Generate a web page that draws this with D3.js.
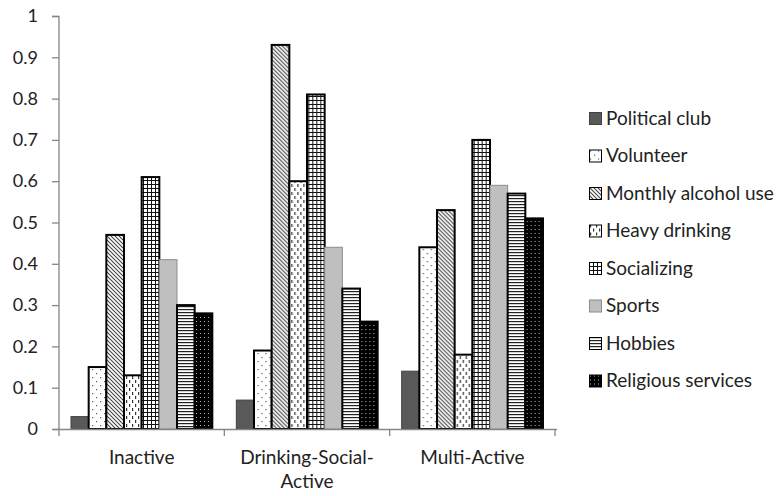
<!DOCTYPE html>
<html><head><meta charset="utf-8">
<script src="https://cdn.jsdelivr.net/npm/d3@7"></script>
<style>body{margin:0;background:#fff;} svg{display:block;font-family:Lato, "Open Sans", sans-serif;}</style>
</head><body><svg id="c" width="783" height="496"></svg>
<script>
const categories = ["Inactive", "Drinking-Social-Active", "Multi-Active"];
const categoryLines = [["Inactive"], ["Drinking-Social-", "Active"], ["Multi-Active"]];
const seriesNames = ["Political club","Volunteer","Monthly alcohol use","Heavy drinking","Socializing","Sports","Hobbies","Religious services"];
const politicalClub = [0.03, 0.07, 0.14];
const volunteer = [0.15, 0.19, 0.44];
const monthlyAlcohol = [0.47, 0.93, 0.53];
const heavyDrinking = [0.13, 0.60, 0.18];
const socializing = [0.61, 0.81, 0.70];
const sports = [0.41, 0.44, 0.59];
const hobbies = [0.30, 0.34, 0.57];
const religious = [0.28, 0.26, 0.51];
const yTicks = [0,0.1,0.2,0.3,0.4,0.5,0.6,0.7,0.8,0.9,1];

const seriesValues = [politicalClub, volunteer, monthlyAlcohol, heavyDrinking, socializing, sports, hobbies, religious];

const svg = d3.select("#c");
const defs = svg.append("defs");
function pat(id, w, h, build){
  const p = defs.append("pattern").attr("id", id).attr("patternUnits","userSpaceOnUse").attr("width",w).attr("height",h);
  build(p);
}
pat("p-vol", 8, 8, p=>{
  p.append("rect").attr("width",8).attr("height",8).attr("fill","#fff");
  p.append("rect").attr("x",1).attr("y",1).attr("width",1.2).attr("height",1.2).attr("fill","#555");
  p.append("rect").attr("x",5).attr("y",5).attr("width",1.2).attr("height",1.2).attr("fill","#555");
});
pat("p-mon", 4, 4, p=>{
  p.append("rect").attr("width",4).attr("height",4).attr("fill","#fff");
  p.append("path").attr("d","M-1,-1 L5,5 M-1,3 L1,5 M3,-1 L5,1").attr("stroke","#444").attr("stroke-width",1.1);
});
pat("p-heavy", 6, 8, p=>{
  p.append("rect").attr("width",6).attr("height",8).attr("fill","#fff");
  p.append("rect").attr("x",1).attr("y",0).attr("width",1.2).attr("height",3).attr("fill","#333");
  p.append("rect").attr("x",4).attr("y",4).attr("width",1.2).attr("height",3).attr("fill","#333");
});
pat("p-soc", 4, 4, p=>{
  p.append("rect").attr("width",4).attr("height",4).attr("fill","#fff");
  p.append("rect").attr("x",0).attr("y",0).attr("width",4).attr("height",1).attr("fill","#111");
  p.append("rect").attr("x",0).attr("y",0).attr("width",1).attr("height",4).attr("fill","#111");
});
pat("p-hob", 4, 3, p=>{
  p.append("rect").attr("width",4).attr("height",3).attr("fill","#fff");
  p.append("rect").attr("x",0).attr("y",0).attr("width",4).attr("height",1.2).attr("fill","#222");
});
pat("p-rel", 4, 4, p=>{
  p.append("rect").attr("width",4).attr("height",4).attr("fill","#000");
  p.append("rect").attr("x",1).attr("y",1).attr("width",1).attr("height",1).attr("fill","#bbb");
});
const styles = [
  {fill:"#595959", stroke:"#404040", sw:1},
  {fill:"url(#p-vol)", stroke:"#000", sw:2},
  {fill:"url(#p-mon)", stroke:"#000", sw:2},
  {fill:"url(#p-heavy)", stroke:"#000", sw:2},
  {fill:"url(#p-soc)", stroke:"#000", sw:2},
  {fill:"#bfbfbf", stroke:"#8c8c8c", sw:1},
  {fill:"url(#p-hob)", stroke:"#000", sw:2},
  {fill:"url(#p-rel)", stroke:"#000", sw:2}
];

const x0 = d3.scaleBand().domain(categories).range([59, 555]).paddingInner(0).paddingOuter(0);
const x1 = d3.scaleBand().domain(seriesNames).range([0, x0.bandwidth()]).paddingOuter(0.68).paddingInner(0);
const y = d3.scaleLinear().domain([0,1]).range([429, 16]);

const axisColor = "#868686";
// y axis
const yAxis = svg.append("g").attr("transform","translate(59,0)")
  .call(d3.axisLeft(y).tickValues(yTicks).tickSize(7).tickPadding(14).tickFormat(d3.format("")));
yAxis.select(".domain").attr("stroke",axisColor).attr("stroke-width",1.3).attr("d","M-7,16.5H0V429");
yAxis.selectAll(".tick line").attr("stroke",axisColor).attr("stroke-width",1.3);
yAxis.selectAll(".tick text").attr("fill","#222").style("font-size","18px").style("font-family","Lato, sans-serif");

// bars
const groups = svg.append("g").selectAll("g").data(categories).join("g")
  .attr("transform", d=>`translate(${x0(d)},0)`);
groups.selectAll("rect").data((c,ci)=>seriesNames.map((s,si)=>({s,si,v:seriesValues[si][ci]}))).join("rect")
  .attr("x", d=>x1(d.s)).attr("width", x1.bandwidth())
  .attr("y", d=>y(d.v)).attr("height", d=>y(0)-y(d.v))
  .attr("fill", d=>styles[d.si].fill).attr("stroke", d=>styles[d.si].stroke).attr("stroke-width", d=>styles[d.si].sw);

// x axis
const xg = svg.append("g").attr("transform","translate(0,429)");
xg.append("line").attr("x1",53).attr("x2",557).attr("y1",0.5).attr("y2",0.5).attr("stroke",axisColor).attr("stroke-width",1.3);
const bounds = [x0.range()[0]].concat(categories.map(c=>x0(c)+x0.bandwidth()));
xg.selectAll("line.t").data(bounds).join("line").attr("class","t")
  .attr("x1",d=>d).attr("x2",d=>d).attr("y1",0).attr("y2",7).attr("stroke",axisColor).attr("stroke-width",1.3);
const lab = xg.selectAll("text").data(categories).join("text")
  .attr("x", d=>x0(d)+x0.bandwidth()/2).attr("y", 35)
  .attr("text-anchor","middle").attr("fill","#222").style("font-size","19px");
lab.each(function(d,i){
  const t = d3.select(this);
  categoryLines[i].forEach((ln,k)=>t.append("tspan").attr("x", x0(d)+x0.bandwidth()/2).attr("dy", k===0?0:24).text(ln));
});

// legend
const lg = svg.append("g").attr("transform","translate(589,112)");
const items = lg.selectAll("g").data(seriesNames).join("g").attr("transform",(d,i)=>`translate(0,${i*37.5})`);
items.append("rect").attr("x",0.5).attr("y",0.5).attr("width",12).attr("height",12)
  .attr("fill",(d,i)=>styles[i].fill).attr("stroke",(d,i)=>styles[i].stroke).attr("stroke-width",1);
items.append("text").attr("x",17).attr("y",12.5).attr("fill","#222").style("font-size","19px").text(d=>d);
</script></body></html>
